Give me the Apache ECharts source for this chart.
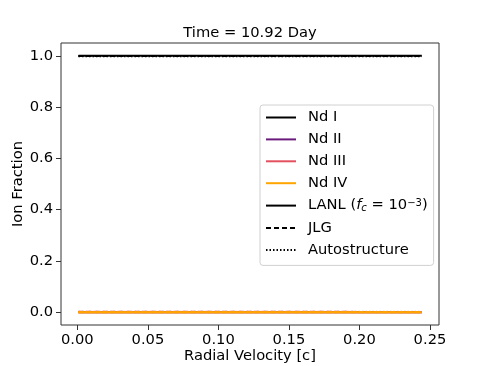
<!DOCTYPE html>
<html>
<head>
<meta charset="utf-8">
<script src="https://cdn.jsdelivr.net/npm/echarts@6/dist/echarts.min.js"></script>
<style>html,body{margin:0;padding:0;background:#fff}#c{width:488px;height:366px}</style>
</head>
<body>
<div id="c"></div>
<script>
// Data
const velocity = [0.0008, 0.02, 0.04, 0.06, 0.08, 0.10, 0.12, 0.14, 0.16, 0.18, 0.19, 0.20, 0.22, 0.2442];
const ndI_LANL  = [1.0, 1.0, 1.0, 1.0, 1.0, 1.0, 1.0, 1.0, 1.0, 1.0, 1.0, 1.0, 1.0, 1.0];
const ndI_JLG   = [0.999, 0.999, 0.999, 0.999, 0.999, 0.999, 0.999, 0.999, 0.999, 0.999, 0.999, 0.999, 0.999, 0.999];
const ndI_AS    = [0.998, 0.998, 0.998, 0.998, 0.998, 0.998, 0.998, 0.998, 0.998, 0.998, 0.998, 0.998, 0.998, 0.998];
const ndII_LANL = [0, 0, 0, 0, 0, 0, 0, 0, 0, 0, 0, 0, 0, 0];
const ndII_JLG  = [0.001, 0.001, 0.001, 0.001, 0.001, 0.001, 0.001, 0.001, 0.001, 0.001, 0.001, 0.001, 0.001, 0.001];
const ndII_AS   = [0.002, 0.002, 0.002, 0.002, 0.002, 0.002, 0.002, 0.002, 0.002, 0.002, 0.002, 0.002, 0.002, 0.002];
const ndIII_LANL= [0, 0, 0, 0, 0, 0, 0, 0, 0, 0, 0, 0, 0, 0];
const ndIII_JLG = [0.004, 0.004, 0.004, 0.004, 0.004, 0.004, 0.004, 0.004, 0.004, 0.004, 0.004, 0.001, 0.001, 0.001];
const ndIII_AS  = [0.001, 0.001, 0.001, 0.001, 0.001, 0.001, 0.001, 0.001, 0.001, 0.001, 0.001, 0.001, 0.001, 0.001];
const ndIV_LANL = [0, 0, 0, 0, 0, 0, 0, 0, 0, 0, 0, 0, 0, 0];
const ndIV_JLG  = [0, 0, 0, 0, 0, 0, 0, 0, 0, 0, 0, 0, 0, 0];
const ndIV_AS   = [0, 0, 0, 0, 0, 0, 0, 0, 0, 0, 0, 0, 0, 0];
const xTicks = [0.00, 0.05, 0.10, 0.15, 0.20, 0.25];
const yTicks = [0.0, 0.2, 0.4, 0.6, 0.8, 1.0];
const ionNames = ['Nd I', 'Nd II', 'Nd III', 'Nd IV'];
const ionColors = ['#000000', '#6a1b7b', '#e3505e', '#ffa500'];
const styleNames = ['LANL', 'JLG', 'Autostructure'];

const ionData = [
  [ndI_LANL, ndI_JLG, ndI_AS],
  [ndII_LANL, ndII_JLG, ndII_AS],
  [ndIII_LANL, ndIII_JLG, ndIII_AS],
  [ndIV_LANL, ndIV_JLG, ndIV_AS]
];
const lineTypes = ['solid', [5, 3], [1.5, 2]];
const opac = [1, 0.35, 0.35];

const pairs = arr => velocity.map((v, i) => [v, arr[i]]);
const series = [];
ionNames.forEach((name, k) => {
  ionData[k].forEach((arr, j) => {
    series.push({
      name: j === 0 ? name : name + ' ' + styleNames[j],
      type: 'line', symbol: 'none', silent: true, z: 2 + k,
      data: pairs(arr),
      lineStyle: { color: ionColors[k], width: 2, type: lineTypes[j], opacity: (k === 0 || k === 3) ? 1 : opac[j] },
      itemStyle: { color: ionColors[k] }
    });
  });
});
styleNames.forEach((name, j) => {
  series.push({
    name: name, type: 'line', symbol: 'none', data: [],
    lineStyle: { color: '#000', width: 1.5, type: lineTypes[j] },
    itemStyle: { color: '#000' }
  });
});

const chart = echarts.init(document.getElementById('c'), null, { renderer: 'canvas' });
const font = 'DejaVu Sans';
const fs = 14.7;
chart.setOption({
  animation: false,
  backgroundColor: '#fff',
  title: {
    text: 'Time = 10.92 Day', left: 250, top: 26, textAlign: 'center', padding: 0,
    textStyle: { fontFamily: font, fontSize: fs, fontWeight: 'normal', color: '#000' }
  },
  grid: { left: 61, right: 49, top: 43, bottom: 41, outerBoundsMode: 'none', containLabel: false, show: true, borderColor: '#333', borderWidth: 1, backgroundColor: 'transparent' },
  xAxis: {
    type: 'value', min: -0.0116, max: 0.2564,
    name: 'Radial Velocity [c]', nameLocation: 'middle', nameGap: 24, nameMoveOverlap: false,
    nameTextStyle: { fontFamily: font, fontSize: fs, color: '#000' },
    axisLine: { show: false, onZero: false },
    axisTick: { show: true, length: 5, customValues: xTicks, lineStyle: { color: '#333' } },
    axisLabel: { customValues: xTicks, margin: 8, fontFamily: font, fontSize: fs, color: '#000', formatter: v => v.toFixed(2) },
    splitLine: { show: false }
  },
  yAxis: {
    type: 'value', min: -0.05, max: 1.05,
    name: 'Ion Fraction', nameLocation: 'middle', nameGap: 35, nameMoveOverlap: false,
    nameTextStyle: { fontFamily: font, fontSize: fs, color: '#000' },
    axisLine: { show: false, onZero: false },
    axisTick: { show: true, length: 5, customValues: yTicks, lineStyle: { color: '#333' } },
    axisLabel: { customValues: yTicks, margin: 8, fontFamily: font, fontSize: fs, color: '#000', formatter: v => v.toFixed(1) },
    splitLine: { show: false }
  },
  legend: {
    orient: 'vertical', left: 260, top: 105,
    data: ['Nd I', 'Nd II', 'Nd III', 'Nd IV', 'LANL', 'JLG', 'Autostructure'],
    itemWidth: 30, itemHeight: 14, itemGap: 6.9,
    padding: [5, 6, 8, 5],
    itemStyle: { opacity: 0, borderWidth: 0 },
    backgroundColor: 'rgba(255,255,255,0.8)', borderColor: '#d0d0d0', borderWidth: 1, borderRadius: 3,
    selectedMode: false,
    formatter: n => n === 'LANL' ? '{n|LANL (}{i|f}{s|c}{n| = 10}{p|−3}{n|)}' : '{n|' + n + '}',
    textStyle: {
      fontFamily: font, fontSize: fs, color: '#000', padding: [0, 0, 0, 7], lineHeight: 14,
      rich: {
        n: { fontFamily: font, fontSize: fs, color: '#000', lineHeight: 14 },
        i: { fontFamily: font, fontSize: fs, fontStyle: 'italic', color: '#000', lineHeight: 14 },
        s: { fontFamily: font, fontSize: 10, fontStyle: 'italic', color: '#000', lineHeight: 8, padding: [6, 0, 0, 0] },
        p: { fontFamily: font, fontSize: 10, color: '#000', lineHeight: 9, verticalAlign: 'top' }
      }
    }
  },
  series: series
});
</script>
</body>
</html>
